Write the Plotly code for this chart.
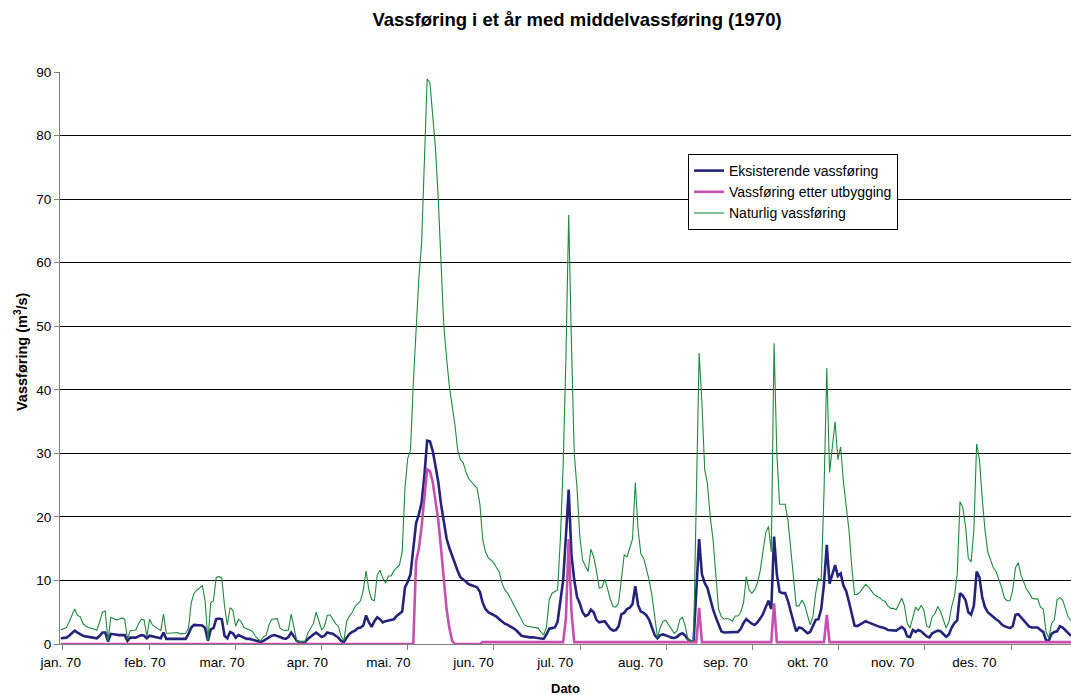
import plotly.graph_objects as go

# Day index 0..364 (1 Jan 1970 .. 31 Dec 1970)
days = list(range(365))

month_labels = ["jan. 70", "feb. 70", "mar. 70", "apr. 70", "mai. 70", "jun. 70",
                "jul. 70", "aug. 70", "sep. 70", "okt. 70", "nov. 70", "des. 70"]
month_label_pos = [0, 30.3, 58.1, 88.8, 118.0, 148.7, 178.2, 208.9, 239.5, 269.1, 299.7, 329.2]

y_ticks = [0, 10, 20, 30, 40, 50, 60, 70, 80, 90]

# Eksisterende vassføring (m3/s)
eksisterende = [
    0.9, 1.0, 1.0, 1.3, 1.7, 2.1, 1.8, 1.5, 1.3, 1.2,
    1.1, 1.0, 0.95, 0.9, 1.3, 1.8, 1.8, 0.4, 1.6, 1.5,
    1.4, 1.4, 1.4, 1.4, 0.5, 1.0, 1.0, 1.0, 1.2, 1.4,
    1.3, 0.9, 1.3, 1.2, 1.1, 1.0, 0.9, 1.8, 0.8, 0.8,
    0.8, 0.8, 0.8, 0.75, 0.75, 0.8, 1.6, 2.6, 3.0, 3.0,
    3.0, 2.9, 2.5, 0.5, 2.3, 2.5, 3.9, 4.0, 3.9, 1.3,
    0.9, 1.9, 1.7, 1.0, 1.4, 1.2, 0.9, 0.8, 0.8, 0.7,
    0.6, 0.4, 0.3, 0.5, 0.8, 1.0, 1.3, 1.4, 1.3, 1.1,
    0.9, 0.8, 1.1, 1.8, 1.2, 0.5, 0.3, 0.3, 0.3, 0.8,
    1.2, 1.5, 1.8, 1.4, 1.1, 1.3, 1.8, 1.7, 1.6, 1.3,
    1.0, 0.5, 0.3, 1.0, 1.6, 1.9, 2.1, 2.5, 2.6, 2.9,
    4.5, 3.4, 2.7, 3.6, 4.2, 3.9, 3.4, 3.6, 3.7, 3.8,
    3.9, 4.4, 4.8, 5.1, 8.9, 9.8, 11.0, 15.4, 19.0, 20.4,
    22.2, 26.5, 32.0, 31.9, 30.4, 28.0, 25.5, 22.0, 19.0, 16.6,
    15.1, 13.8, 12.6, 11.5, 10.5, 10.2, 9.8, 9.4, 9.3, 9.1,
    8.9, 8.2, 6.5, 5.5, 5.0, 4.8, 4.5, 4.3, 3.9, 3.5,
    3.2, 3.0, 2.8, 2.5, 2.2, 1.7, 1.3, 1.2, 1.1, 1.05,
    1.05, 1.0, 0.95, 0.9, 0.8, 1.5, 2.4, 2.5, 2.6, 3.5,
    7.0, 10.0, 17.0, 24.3, 14.0, 10.1, 7.4, 6.4, 5.0, 4.4,
    4.6, 5.4, 5.0, 3.8, 3.4, 3.5, 3.6, 3.0, 2.4, 2.1,
    2.2, 2.8, 4.7, 4.9, 5.5, 5.7, 6.3, 9.1, 6.1, 5.1,
    4.9, 4.5, 3.8, 2.6, 1.4, 0.9, 1.4, 1.5, 1.4, 1.2,
    1.0, 0.95, 1.1, 1.5, 1.7, 1.3, 0.7, 0.45, 0.4, 9.0,
    16.5, 11.0, 9.6, 8.8, 6.9, 5.5, 4.2, 3.0, 2.0, 1.8,
    1.8, 1.9, 1.8, 1.8, 1.9, 2.4, 3.3, 3.9, 3.5, 3.2,
    3.0, 3.4, 4.0, 4.7, 5.8, 6.8, 5.5, 16.9, 11.0, 8.2,
    8.0, 8.0, 6.8, 5.0, 3.5, 2.0, 2.6, 2.5, 2.1, 1.7,
    1.9, 3.0, 3.8, 3.9, 5.5, 9.5, 15.6, 9.5, 11.0, 12.4,
    10.7, 11.1, 9.2, 8.3, 6.6, 4.6, 2.9, 2.8, 3.1, 3.4,
    3.6, 3.4, 3.2, 3.0, 2.9, 2.7, 2.6, 2.5, 2.2, 2.2,
    2.2, 2.1, 2.4, 2.7, 2.3, 1.2, 1.1, 2.2, 1.9, 2.2,
    2.0, 1.6, 1.2, 1.05, 1.7, 1.9, 2.1, 2.0, 1.6, 1.15,
    1.5, 2.6, 3.3, 3.7, 8.0, 7.6, 6.9, 5.0, 4.6, 6.0,
    11.4, 10.5, 7.4, 5.8, 5.0, 4.6, 4.2, 3.9, 3.6, 3.1,
    2.8, 2.6, 2.5, 2.8, 4.6, 4.7, 4.2, 3.6, 3.1, 2.7,
    2.6, 2.6, 2.6, 2.2, 1.9, 0.6, 0.5, 1.6, 1.9, 2.0,
    2.8, 2.6, 2.2, 1.7, 1.3,
]

# Vassføring etter utbygging (m3/s)
etter_utbygging = [
    0, 0, 0, 0, 0, 0, 0, 0, 0, 0,
    0, 0, 0, 0, 0, 0, 0, 0, 0, 0,
    0, 0, 0, 0, 0, 0, 0, 0, 0, 0,
    0, 0, 0, 0, 0, 0, 0, 0, 0, 0,
    0, 0, 0, 0, 0, 0, 0, 0, 0, 0,
    0, 0, 0, 0, 0, 0, 0, 0, 0, 0,
    0, 0, 0, 0, 0, 0, 0, 0, 0, 0,
    0, 0, 0, 0, 0, 0, 0, 0, 0, 0,
    0, 0, 0, 0, 0, 0, 0, 0, 0, 0,
    0, 0, 0, 0, 0, 0, 0, 0, 0, 0,
    0, 0, 0, 0, 0, 0, 0, 0, 0, 0,
    0, 0, 0, 0, 0, 0, 0, 0, 0, 0,
    0, 0, 0, 0, 0, 0, 0, 0, 13.0, 15.0,
    18.5, 23.0, 27.5, 27.2, 25.5, 22.5, 19.5, 15.0, 10.0, 5.5,
    2.5, 0.5, 0, 0, 0, 0, 0, 0, 0, 0,
    0, 0, 0.3, 0.3, 0.3, 0.3, 0.3, 0.3, 0.3, 0.3,
    0.3, 0.3, 0.3, 0.3, 0.3, 0.3, 0.3, 0.3, 0.3, 0.3,
    0.3, 0.3, 0.3, 0.3, 0.3, 0.3, 0.3, 0.3, 0.3, 0.3,
    0.3, 0.3, 4.0, 16.5, 5.0, 0.3, 0.3, 0.3, 0.3, 0.3,
    0.3, 0.3, 0.3, 0.3, 0.3, 0.3, 0.3, 0.3, 0.3, 0.3,
    0.3, 0.3, 0.3, 0.3, 0.3, 0.3, 0.3, 0.3, 0.3, 0.3,
    0.3, 0.3, 0.3, 0.3, 0.3, 0.3, 0.3, 0.3, 0.3, 0.3,
    0.3, 0.3, 0.3, 0.3, 0.3, 0.3, 0.3, 0.3, 0.3, 0.3,
    5.7, 0.3, 0.3, 0.3, 0.3, 0.3, 0.3, 0.3, 0.3, 0.3,
    0.3, 0.3, 0.3, 0.3, 0.3, 0.3, 0.3, 0.3, 0.3, 0.3,
    0.3, 0.3, 0.3, 0.3, 0.3, 0.3, 0.3, 6.4, 0.3, 0.3,
    0.3, 0.3, 0.3, 0.3, 0.3, 0.3, 0.3, 0.3, 0.3, 0.3,
    0.3, 0.3, 0.3, 0.3, 0.3, 0.3, 4.6, 0.3, 0.3, 0.3,
    0.3, 0.3, 0.3, 0.3, 0.3, 0.3, 0.3, 0.3, 0.3, 0.3,
    0.3, 0.3, 0.3, 0.3, 0.3, 0.3, 0.3, 0.3, 0.3, 0.3,
    0.3, 0.3, 0.3, 0.3, 0.3, 0.3, 0.3, 0.3, 0.3, 0.3,
    0.3, 0.3, 0.3, 0.3, 0.3, 0.3, 0.3, 0.3, 0.3, 0.3,
    0.3, 0.3, 0.3, 0.3, 0.3, 0.3, 0.3, 0.3, 0.3, 0.3,
    0.3, 0.3, 0.3, 0.3, 0.3, 0.3, 0.3, 0.3, 0.3, 0.3,
    0.3, 0.3, 0.3, 0.3, 0.3, 0.3, 0.3, 0.3, 0.3, 0.3,
    0.3, 0.3, 0.3, 0.3, 0.3, 0.3, 0.3, 0.3, 0.3, 0.3,
    0.3, 0.3, 0.3, 0.3, 0.3,
]

# Naturlig vassføring (m3/s)
naturlig = [
    2.2, 2.4, 2.6, 3.5, 4.6, 5.5, 4.5, 4.3, 3.2, 2.8,
    2.6, 2.5, 2.3, 2.2, 3.5, 5.0, 5.2, 0.5, 4.2, 4.0,
    3.8, 3.9, 4.1, 3.9, 0.8, 2.1, 2.1, 2.2, 3.2, 3.9,
    3.8, 1.2, 3.9, 3.0, 2.7, 2.4, 2.1, 4.7, 1.7, 1.7,
    1.7, 1.8, 1.8, 1.6, 1.7, 1.7, 2.5, 6.5, 8.0, 8.5,
    8.8, 9.2, 6.7, 0.5, 6.5, 6.8, 10.5, 10.6, 10.4, 5.9,
    3.0, 5.7, 5.3, 2.8, 3.9, 3.5, 2.6, 2.4, 2.3, 2.0,
    1.3, 0.8, 0.5, 1.1, 1.4, 3.0, 3.9, 4.0, 4.0, 2.5,
    2.2, 2.1, 2.2, 4.7, 2.5, 0.5, 0.4, 0.4, 0.4, 1.7,
    2.5, 3.2, 5.0, 3.6, 2.2, 2.8, 4.5, 4.6, 3.8, 3.2,
    2.8, 1.2, 0.5, 3.6, 4.4, 5.0, 5.9, 6.3, 6.8, 8.5,
    11.5, 8.5, 7.0, 6.8, 10.8, 11.6, 10.4, 9.6, 10.7, 10.7,
    11.5, 12.0, 12.4, 14.5, 24.5, 29.2, 30.5, 41.0, 49.0, 57.5,
    63.0, 75.0, 88.9, 88.3, 83.5, 78.0, 70.0, 60.0, 50.0, 45.0,
    40.5, 37.5, 34.5, 30.5, 29.0, 28.5, 27.0, 26.0, 25.4, 25.0,
    24.5, 22.0, 16.5, 14.5, 13.6, 13.2, 12.8, 12.0, 11.3, 9.5,
    8.5, 8.0, 7.2, 6.3, 5.5, 4.6, 3.8, 3.0, 2.8, 2.7,
    2.65, 2.6, 2.5, 1.9, 1.4, 2.7, 7.0, 8.0, 8.2, 8.5,
    16.5, 28.0, 45.0, 67.5, 47.0, 30.0, 24.5, 17.0, 13.2, 12.4,
    11.4, 14.9, 13.7, 11.5, 8.8, 8.9, 10.2, 8.7, 7.0, 5.9,
    5.8, 6.5, 10.3, 14.0, 13.7, 15.0, 16.5, 25.4, 18.0, 14.2,
    13.5, 11.8, 10.0, 7.6, 4.0, 1.0, 2.6, 3.6, 3.7, 3.0,
    2.5, 1.7, 2.0, 3.8, 4.2, 2.8, 0.7, 0.4, 0.6, 23.0,
    45.8, 38.0, 27.5, 25.2, 20.0, 16.5, 11.0, 5.5, 4.3, 3.9,
    4.0, 3.9, 3.6, 4.4, 4.4, 5.0, 6.5, 10.6, 8.5, 8.0,
    8.5, 9.6, 11.5, 14.5, 17.5, 18.5, 14.5, 47.3, 30.0, 22.0,
    22.0, 22.0, 19.5, 15.0, 10.0, 6.0, 6.0, 6.9, 6.2, 4.7,
    3.0, 4.3, 8.0, 10.3, 10.0, 24.0, 43.4, 27.0, 31.5, 35.0,
    29.0, 31.0, 25.5, 22.0, 17.9, 12.2, 7.8, 7.8, 8.2, 8.8,
    9.4, 9.0, 8.3, 7.8, 7.5, 7.3, 6.9, 6.7, 6.0, 5.6,
    5.6, 5.4, 6.3, 7.2, 6.0, 3.2, 2.5, 4.3, 5.8, 5.3,
    6.1, 5.3, 2.8, 2.6, 4.3, 4.8, 5.9, 5.1, 3.8, 2.5,
    3.5, 5.9, 7.5, 11.0, 22.4, 21.5, 18.5, 13.5, 12.9, 18.0,
    31.5, 29.0, 23.0, 18.0, 14.5, 13.2, 12.0, 11.4, 10.2, 8.9,
    7.2, 6.8, 6.8, 8.5, 12.0, 12.8, 10.8, 9.8, 8.6, 8.0,
    7.2, 7.1, 7.1, 5.8, 5.5, 1.9, 1.0, 3.2, 3.8, 7.0,
    7.3, 6.9, 5.5, 4.2, 3.7,
]

FONT = "Liberation Sans, Arial, sans-serif"

fig = go.Figure()
fig.add_trace(go.Scatter(x=days, y=eksisterende, mode="lines",
                         name="Eksisterende vassføring",
                         line=dict(color="#24247a", width=2.6)))
fig.add_trace(go.Scatter(x=days, y=etter_utbygging, mode="lines",
                         name="Vassføring etter utbygging",
                         line=dict(color="#c64fb0", width=2.6)))
fig.add_trace(go.Scatter(x=days, y=naturlig, mode="lines",
                         name="Naturlig vassføring",
                         line=dict(color="#1e8a3e", width=1.1)))

fig.update_layout(
    width=1071, height=695,
    margin=dict(l=60, r=0, t=72, b=51),
    paper_bgcolor="white", plot_bgcolor="white",
    font=dict(family=FONT, size=13, color="black"),
    title=dict(text="<b>Vassføring i et år med middelvassføring (1970)</b>",
               x=577 / 1071, xref="container", xanchor="center",
               y=1 - 20 / 695, yref="container", yanchor="middle",
               font=dict(family=FONT, size=18.5, color="black")),
    showlegend=True,
    legend=dict(x=(688 - 60) / 1011, y=(644 - 154) / 572, xanchor="left", yanchor="top",
                bgcolor="white", bordercolor="black", borderwidth=1,
                font=dict(family=FONT, size=14, color="black"),
                tracegroupgap=0, itemwidth=30),
    xaxis=dict(range=[-0.3, 364], tickmode="array", tickvals=month_label_pos,
               ticktext=month_labels, ticks="", showgrid=False, zeroline=False,
               showline=True, linecolor="#808080", linewidth=1, ticklabelstandoff=6,
               tickfont=dict(family=FONT, size=13.5, color="black"),
               minor=dict(tickmode="linear", tick0=31.8, dtick=31.06, ticks="outside",
                          ticklen=5, tickcolor="#808080", tickwidth=1, showgrid=False)),
    yaxis=dict(range=[0, 90], tickmode="array", tickvals=y_ticks,
               ticks="outside", ticklen=5, tickcolor="#808080",
               showgrid=True, gridcolor="black", gridwidth=1, zeroline=False,
               showline=True, linecolor="#808080", linewidth=1,
               tickfont=dict(family=FONT, size=13.5, color="black")),
    annotations=[
        dict(text="<b>Vassføring (m<sup>3</sup>/s)</b>", textangle=-90,
             xref="paper", yref="paper", x=(21 - 60) / 1011, y=(644 - 352) / 572,
             xanchor="center", yanchor="middle", showarrow=False,
             font=dict(family=FONT, size=14.5, color="black")),
        dict(text="<b>Dato</b>", xref="paper", yref="paper",
             x=(565 - 60) / 1011, y=(644 - 688) / 572, xanchor="center", yanchor="middle",
             showarrow=False, font=dict(family=FONT, size=13, color="black")),
    ],
)

fig.write_html("out.html", config={"displayModeBar": False},
               post_script="document.body.style.margin='0';document.body.style.overflow='hidden';")
